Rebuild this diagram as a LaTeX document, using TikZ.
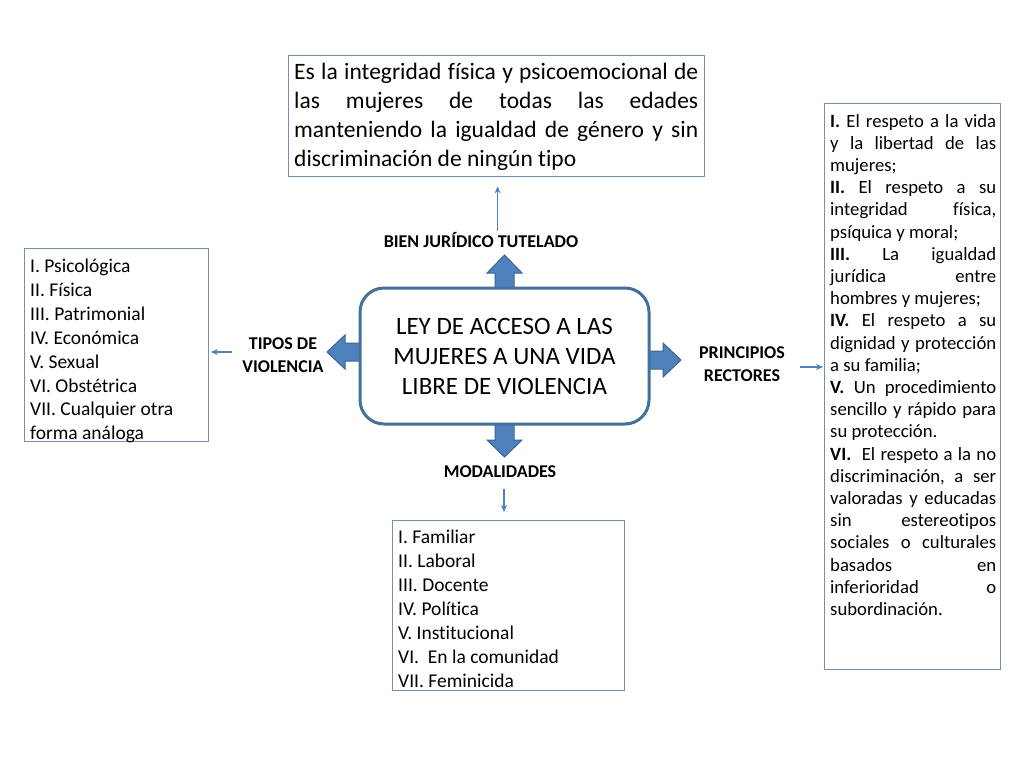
\documentclass[tikz,border=0pt]{standalone}
\usepackage{fontspec}
\setmainfont{Carlito}[Ligatures={NoCommon,NoContextual}]
\usetikzlibrary{calc,arrows.meta}
\definecolor{boxblue}{HTML}{41719C}
\definecolor{arrfill}{HTML}{4F81BD}
\definecolor{arrline}{HTML}{3A6595}
\definecolor{thinblue}{HTML}{7090B8}
\begin{document}
\frenchspacing
\begin{tikzpicture}[x=1pt,y=-1pt,
  thinbox/.style={draw=thinblue, line width=1.3pt, inner sep=0pt, anchor=north west},
  boxtext/.style={anchor=base west, inner sep=0pt, align=justify},
  listtext/.style={anchor=base west, inner sep=0pt, align=flush left},
  lbl/.style={font=\bfseries\fontsize{18}{23}\selectfont, align=center, inner sep=0pt},
  smallarr/.style={draw=arrfill, line width=1.3pt, -{Stealth[length=7pt,width=6pt]}},
  bigarr/.style={fill=arrfill, draw=arrline, line width=1pt, line join=miter},
]
\useasboundingbox[fill=white] (0,0) rectangle (1024,768);

% boxes
\node[thinbox, minimum width=416pt, minimum height=121pt] (bien) at (288,55) {};
\node[boxtext, text width=404pt, font=\fontsize{23.5}{29}\selectfont] (bientext) at (294,79.5)
 {\frenchspacing\hyphenpenalty=10000 Es la integridad física y psicoemocional de\linebreak las mujeres de todas las edades\linebreak manteniendo la igualdad de género y sin\linebreak discriminación de ningún tipo\par};

\node[thinbox, minimum width=184pt, minimum height=193pt] (tbox) at (24,248) {};
\node[listtext, text width=175pt, font=\fontsize{19.5}{23.9}\selectfont] (ttext) at (30,272.5)
 {\frenchspacing I. Psicológica\par II. Física\par III. Patrimonial\par IV. Económica\par V. Sexual\par VI. Obstétrica\par VII. Cualquier otra\par forma análoga\par};

\node[thinbox, minimum width=232pt, minimum height=170pt] (mbox) at (392,520) {};
\node[listtext, text width=220pt, font=\fontsize{19.5}{24}\selectfont] (mtext) at (398,543.5)
 {\frenchspacing I. Familiar\par II. Laboral\par III. Docente\par IV. Política\par V. Institucional\par VI.\ \ En la comunidad\par VII. Feminicida\par};

\node[thinbox, minimum width=176pt, minimum height=566pt] (pbox) at (824,103) {};
\node[boxtext, text width=166pt, font=\fontsize{18.7}{22.2}\selectfont] (ptext) at (830,127)
 {\frenchspacing\hyphenpenalty=10000\exhyphenpenalty=10000
 \textbf{I.} El respeto a la vida\linebreak y la libertad de las\linebreak mujeres;\par
 \textbf{II.} El respeto a su\linebreak integridad física,\linebreak psíquica y moral;\par
 \textbf{III.} La igualdad\linebreak jurídica entre\linebreak hombres y mujeres;\par
 \textbf{IV.} El respeto a su\linebreak dignidad y protección\linebreak a su familia;\par
 \textbf{V.} Un procedimiento\linebreak sencillo y rápido para\linebreak su protección.\par
 \textbf{VI.}\ \ El respeto a la no\linebreak discriminación, a ser\linebreak valoradas y educadas\linebreak sin estereotipos\linebreak sociales o culturales\linebreak basados en\linebreak inferioridad o\linebreak subordinación.\par};

\coordinate (c) at (504.5,356);

% block arrows
\fill[bigarr] (495,292) -- (495,273) -- (487,273) -- (504.5,255) -- (522,273) -- (514,273) -- (514,292) -- cycle;
\fill[bigarr] (495,420) -- (495,440) -- (487,440) -- (504.5,457) -- (522,440) -- (514,440) -- (514,420) -- cycle;
\fill[bigarr] (364,343) -- (345,343) -- (345,335) -- (327,352) -- (345,369) -- (345,361) -- (364,361) -- cycle;
\fill[bigarr] (645,351) -- (663,351) -- (663,343) -- (681,360) -- (663,377) -- (663,369) -- (645,369) -- cycle;

\node[draw=boxblue, line width=3pt, fill=white, rounded corners=24pt,
      minimum width=289pt, minimum height=136pt, inner sep=0pt,
      font=\fontsize{25}{30}\selectfont, align=center] (ley) at (c)
 {LEY DE ACCESO A LAS\\ MUJERES A UNA VIDA\\ LIBRE DE VIOLENCIA};

% labels
\node[lbl, anchor=base] (bienlbl) at (481,247) {BIEN JURÍDICO TUTELADO};
\node[lbl] (tiposlbl) at (283,355.5) {TIPOS DE\\ VIOLENCIA};
\node[lbl] (modlbl) at (500,472) {MODALIDADES};
\node[lbl] (prinlbl) at (742,364.5) {PRINCIPIOS\\ RECTORES};

% small connectors
\coordinate (ba) at (bienlbl.north -| bien.south);
\draw[smallarr] ($(ba)+(1,-1)$) -- ($(bien.south)+(1,9)$);
\coordinate (ta) at (232,352);
\draw[smallarr] (ta) -- ($(ta -| tbox.east)+(1.5,0)$);
\coordinate (ma) at (504,489);
\draw[smallarr] (ma) -- ($(ma |- mbox.north)+(0,-8)$);
\coordinate (pa) at (800,367);
\draw[smallarr] (pa) -- ($(pa -| pbox.west)+(-1,0)$);
\end{tikzpicture}
\end{document}
